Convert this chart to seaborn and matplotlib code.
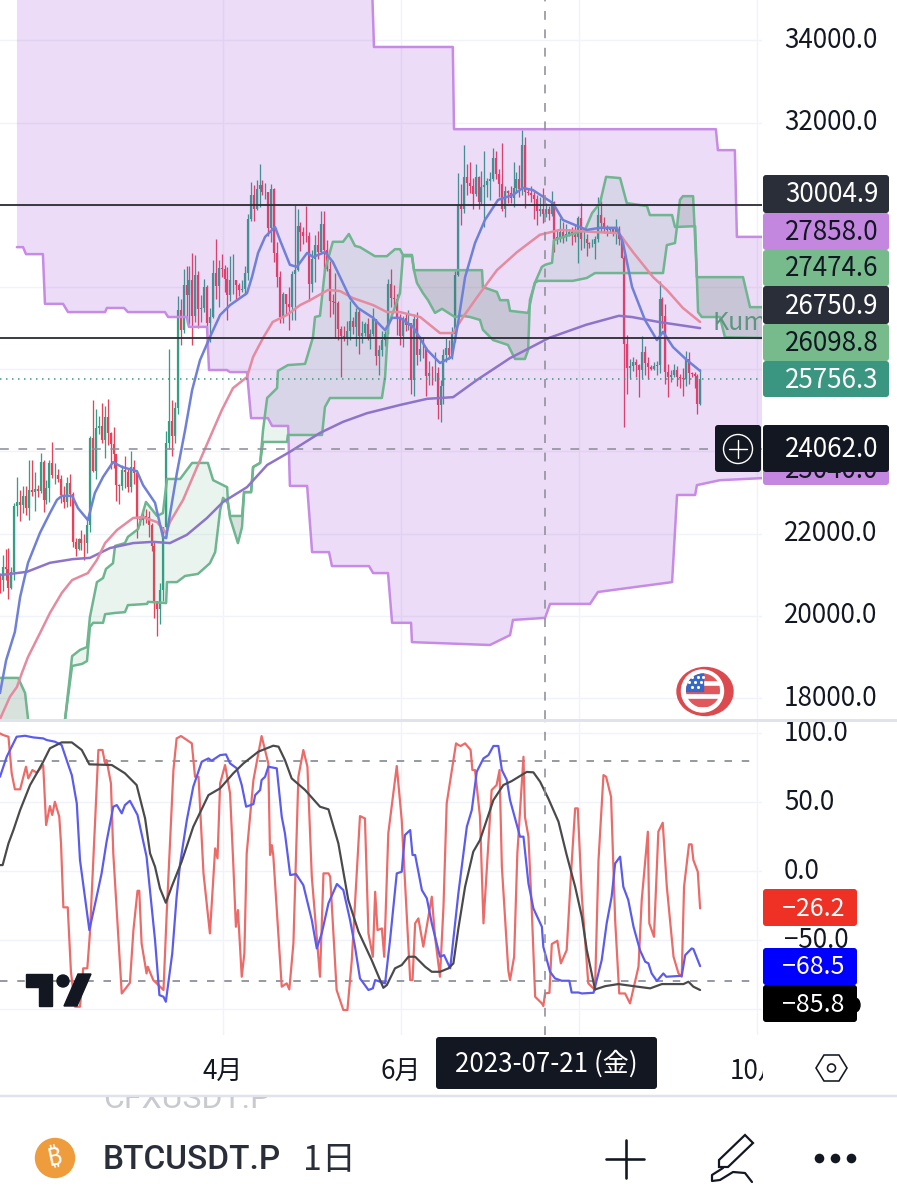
import numpy as np
import seaborn as sns
import matplotlib
matplotlib.use("Agg")
import matplotlib.pyplot as plt
from matplotlib.patches import Circle, Ellipse, FancyBboxPatch, Polygon, Rectangle

# ---- data ----------------------------------------------------------------
# x values everywhere are days counted from 2023-04-01

# daily candles 2023-01-14 .. 2023-09-12
highs = [21250,21030,21470,21630,21650,21180,22750,23370,23070,23170,23150,23800,23800,23500,23180,23960,23800,23300,
         23800,24230,23710,23580,23430,23160,23370,23450,23010,21900,21900,22080,21980,22320,24370,25240,25020,24850,25190,25100,25280,24470,24600,23890,23200,23680,23880,23600,
         24000,23780,23480,22420,22600,22600,22550,22270,21800,20360,20800,22150,24500,26500,25250,25200,27780,27720,28450,28500,28500,28830,28780,28400,27800,28200,28040,27500,28650,29170,28650,
         28800,28530,28490,28750,28800,28180,28100,28170,28520,29770,30550,30490,30600,31000,30600,30540,30300,30500,30400,29100,28380,27880,27820,28000,28400,30000,29900,29580,29450,29980,
         29330,28900,29260,29370,29850,29850,29150,28630,27830,28330,27650,27060,27050,27180,27660,27260,27480,27470,27170,27150,27250,26990,27490,27220,26590,26930,26920,28200,28450,28050,27830,
         27350,27300,27340,27450,27130,27350,27400,26800,26780,26530,26200,26080,26420,26050,25730,26480,26770,26700,27020,28400,30780,30500,31450,31000,31050,30650,31000,30700,30830,31300,
         30650,30800,31380,31320,30870,31500,30450,30370,30450,31030,30800,30970,31820,31650,30400,30450,30330,30240,30190,30400,30050,29980,30330,30100,29380,29680,29570,29530,29400,29450,29520,
         29720,30050,29400,29300,29100,29170,29230,30200,30100,29700,29520,29450,29450,29650,29480,29230,28770,26830,26250,26300,26250,26130,26820,26560,26300,26100,26170,26200,28150,27760,27580,
         26130,25980,26120,26080,25880,26020,26450,26430,25930,25930,25880,26000]
lows = [19880,20550,20600,20880,20400,20660,20870,22420,22300,22500,22460,22320,22920,22550,22880,23000,22530,22720,
        22760,23360,23200,23250,22750,22630,22650,22680,21680,21450,21590,21610,21350,21530,22040,23500,23330,24430,24200,23850,24150,23570,23600,22800,22720,23050,23100,23020,
        23020,23200,21900,22200,22200,22270,21920,21580,19950,19500,19800,20360,21900,24050,23900,24200,24900,26600,26880,27100,27100,26600,27150,27000,27150,27380,26500,26650,27240,27700,27520,
        28250,27870,27200,27670,27830,27720,27770,27880,27800,28170,29600,29600,29870,29950,30230,30130,29250,29100,28600,28000,27130,27120,27330,26950,27200,27200,28380,28880,29050,29090,
        27660,27870,28120,28670,28800,28380,28380,27260,27350,26770,26700,25800,26690,26600,26720,26860,26560,26380,26640,26820,26700,26500,26820,26100,25860,26330,26560,26850,27520,27550,26840,
        26600,26550,26920,26960,25400,25350,26100,26200,26280,25350,25610,25620,25720,24800,24720,25160,26180,26250,26250,26650,28270,29520,29800,30250,30280,29900,30220,29900,30030,29450,
        30180,30120,30580,30620,30200,29850,29700,30040,30050,29950,30300,30200,30240,29930,30250,30070,29650,29500,29730,29550,29700,29630,29730,28850,29040,29100,29060,29120,29250,29030,29100,
        28580,28900,28950,28750,28950,28970,28680,29100,29350,29320,29230,29350,29230,29050,29030,28700,24590,25400,25780,25950,25800,25330,25780,25850,25750,25970,25980,25860,25900,27000,25650,
        25320,25700,25800,25600,25550,25350,25600,25650,25800,25550,24900,25130]
closes = [20950,20870,21180,21130,20670,21070,22670,22780,22700,22910,22620,23060,23010,23080,23030,23740,22820,23120,
          23730,23430,23430,23320,22930,22760,23240,22960,21790,21620,21860,21780,21770,22200,24320,23520,24560,24630,24280,24830,24450,24180,23930,23190,23160,23560,23490,23130,
          23630,23470,22350,22340,22430,22410,22200,21700,20360,20160,20620,22150,24200,24750,24370,25050,27430,26950,28040,27800,28170,27300,28300,27470,27480,27990,27130,27260,28350,28030,28470,
          28450,28190,27800,28170,28170,28040,27920,27950,28330,29650,30230,29890,30390,30490,30320,30320,29430,30390,28820,28250,27270,27820,27590,27510,28310,28420,29480,29340,29250,29230,
          28070,28680,29030,28850,29530,28900,28450,27670,27630,27620,26990,26800,26780,26930,27170,27030,27400,26820,26880,27100,26750,26850,27220,26330,26470,26710,26860,28070,27740,27700,27210,
          26820,27240,27070,27120,25730,27230,26340,26500,26480,25840,25920,25900,25900,25120,25580,26340,26510,26340,26850,28300,29990,29890,30680,30530,30460,30270,30680,30080,30440,30470,
          30580,30620,31150,30760,30500,29900,30340,30280,30160,30410,30620,30380,31450,30310,30290,30230,30130,29850,29900,29780,29900,29780,30080,29170,29220,29350,29210,29300,29350,29270,29220,
          29680,29170,29170,29080,29040,29040,29170,29760,29550,29420,29390,29410,29280,29400,29170,28700,26620,26040,26090,26180,26110,25990,26430,26160,26050,26010,26090,26100,27720,27300,25930,
          25800,25870,25970,25810,25780,25750,26240,25900,25890,25830,25160,25756.3]
first_open = 19930
first_candle_day = -77.5

# big purple cloud
cloud_low_days = [-70.6,-68.5,-67.5,-61.7,-61,-54.8,-53.1,-40.4,-39.8,-33.9,-32.6,-19.9,-18.8,-12.4,-11.7,-5.5,-4.8,1.3,2.4,8.2,9.6,15.4,16.8,22.3,22.9,28.8,30.5,36.3,37.3,50,51.4,56.5,57.9,64.4,64.7,91.4,98.3,99.3,110.3,112,125.7,128.4,153.8,155.5,161.7,162.3,170.2,184.6]
cloud_low = [28970,28970,28800,28800,27590,27590,27390,27390,27490,27490,27390,27390,27270,27270,27030,27030,25980,25980,25930,25930,24810,24810,24620,24620,23160,23160,21550,21550,21210,21210,21040,21040,19830,19830,19360,19290,19530,19900,19950,20290,20290,20580,20820,22940,22940,23180,23300,23350]
cloud_top_days = [-70.6,50.5,51.7,78.7,79.1,168.8,169.5,175.3,176,184.6]
cloud_top = [36500,36500,33840,33840,31840,31840,31330,31330,29220,29220]

# green ichimoku spans
span_a_days = [-76.4,-55.9,-54.1,-51.7,-49,-46.6,-45.6,-43.2,-41.1,-40.1,-37.7,-37,-33.6,-32.6,-29.1,-26.4,-22.6,-20.6,-19.2,-14.7,-10.6,-5.2,-3.4,1.4,1.7,2.4,5.1,6.5,7.2,9.6,10.3,12.7,13.7,15.1,18.5,18.8,22.2,28.1,30.8,31.5,33.2,34.9,37.6,41.1,43.1,45.2,46.9,52,56.1,58.9,60.6,61.6,64.7,65.4,66.4,68.5,70.2,72.6,75,79.4,81.8,84.6,88,89,92.5,97.6,100,103.4,104.5,105.1,106.8,109.2,110.3,112.7,113.3,124,126.4,129.1,131.2,136,138.3,145.2,146.2,153.8,154.8,161.7,162.7,164,170.2,171.9,184.9]
span_a = [16490,16490,17490,19020,19170,19240,19970,20820,20920,21140,21280,21700,21770,21920,22110,22770,22430,22500,23330,23330,23720,23720,23300,23130,22740,22380,21770,22160,23010,23010,23620,23720,24520,25300,25540,25960,26100,26130,26780,27270,27300,28410,29100,29100,29290,29000,28970,28750,28750,28920,28920,28780,28780,28410,28100,27850,27680,27370,27470,27270,27300,27270,27200,26960,26710,26590,26250,26250,26470,27680,28100,28490,28540,28590,29140,29390,29800,30040,30680,30650,30040,29970,29750,29750,29460,29480,27390,27270,27270,26780,26760]
span_b_days = [-76.4,-70.2,-67.8,-66.8,-64.4,-55.9,-54.1,-53.1,-51.7,-48.3,-46.6,-45.6,-44.5,-41.1,-40.4,-37,-33.6,-32.6,-26,-25.7,-19.5,-19.2,-15.8,-13,-8.6,-4.5,-2.7,-1,0,1.7,2.4,6.5,7.2,9.6,10.3,12.7,13.7,21.9,22.2,33.9,34.9,36.6,54.4,55.5,56.5,57.9,60.6,61.6,64.7,65.4,88.7,89,93.8,94.9,97.6,98.3,104.5,105.8,106.8,107.9,119.8,124.6,127.4,150.7,152,154.8,155.5,156.5,157.5,161,162.3,178.1,180.5,184.9]
span_b = [18490,18490,18120,17490,16000,16000,17490,18030,18780,18830,18900,19730,19830,19830,20040,20070,20090,20260,20290,20340,20310,20820,20820,20970,21020,21280,21550,22570,22870,22740,22430,22430,23010,23010,23620,23720,24230,24230,24400,24400,25080,25300,25300,25810,27030,27320,27850,28750,28750,28410,28410,28000,27880,27680,27680,27420,27370,27810,28100,28150,28150,28220,28340,28340,29020,29070,29480,30120,30210,30210,28240,28240,27510,27510]

# moving averages
blue_days = [-76.4,-74.3,-71.3,-69.5,-66.8,-62.7,-59.3,-56.9,-55.2,-51.7,-49.7,-46.3,-43.9,-41.1,-37.7,-34.6,-29.5,-27.4,-23.3,-20.6,-19.5,-18.9,-15.8,-13,-10.6,-7.9,-4.5,-1,2.4,8.2,9.9,12,14.4,17.8,19.5,22.9,25.3,28.8,30.8,34.9,37.6,40.1,43.5,46.2,51.4,55.5,57.9,60.6,65.1,69.9,74.3,78.4,80.5,82.9,86.3,89.7,94.2,99.3,102.7,106.1,113,116.4,124.6,129.1,134.9,137,140.1,144.5,148.6,150.7,154.1,158.9,163.4]
blue_ma = [18120,18920,19610,20460,21290,22020,22500,22820,22920,22920,22620,22330,22990,23380,23740,23620,23520,23180,22750,21920,21890,22160,23480,24520,25490,26220,26780,27320,27560,27850,28240,28830,29220,29460,29140,28540,28490,28830,28730,28850,28610,28240,27730,27490,27250,26950,27250,27250,27030,26470,26150,26300,27130,28240,29070,29630,30120,30240,30410,30360,30040,29630,29390,29440,29440,29070,28000,27200,26710,26910,26540,26220,25960]
pink_days = [-76.4,-73,-70.6,-68.9,-66.8,-62.7,-59.3,-55.2,-51.7,-46.3,-43.2,-40.4,-36.3,-30.8,-27.4,-22.6,-19.5,-18.2,-13.7,-8.9,-3.4,-0.4,3.4,8.2,10.3,13.7,17,21.9,26.4,29.8,36,40.1,44.5,51.4,56.1,60.6,67.5,74.3,78.8,82.2,88,93.8,100.7,108.5,115.4,126.7,135.6,140.4,147.3,152,157.5,163.4]
pink_ma = [17490,18030,18270,18610,19000,19580,20070,20560,20870,21040,21360,21770,22090,22380,22400,22280,22010,22280,22820,23620,24520,25010,25540,25810,26300,26760,27150,27320,27560,27680,27930,27900,27730,27560,27390,27390,27270,26880,26880,27270,27850,28410,28850,29270,29390,29340,29310,28850,28240,27930,27490,27150]
violet_days = [-76.4,-67.2,-59.3,-51.4,-45.6,-38.7,-30.8,-24,-18.2,-12.4,-5.5,0,8.2,15.1,22.9,33.2,41.1,49.3,60.6,69.9,78.8,87,98.3,111.6,124.3,135.6,140,149.2,163.4]
violet_ma = [20990,21070,21290,21380,21410,21650,21770,21800,21770,21970,22380,22770,23130,23670,23990,24450,24720,24930,25130,25280,25320,25740,26270,26760,27080,27300,27270,27150,27000]

# lower pane lines
red_days = [-76.4,-75.3,-73.5,-72.4,-71.3,-69.5,-67.5,-66.7,-65.3,-63.8,-61.6,-60.6,-59.3,-58.5,-57.6,-56.1,-55.5,-54.7,-53.2,-52.1,-50.7,-49,-47.9,-46.5,-45.6,-42.7,-41.3,-40.4,-39.9,-38.4,-37.6,-34.7,-31.9,-30.7,-29.3,-28.7,-27.9,-26.2,-25.8,-23.9,-20.4,-19.3,-17,-15.9,-14.4,-10.7,-9.6,-8.4,-6.7,-4.5,-2.7,-1.9,-1,0.7,2.4,3.5,4.4,5.1,6.4,7.3,8.1,10.4,13.2,15.5,16.1,16.7,17.2,20.1,21.8,22.7,24.1,25.8,27.5,28.9,30.4,33.2,34.4,36.1,36.7,38.9,41.2,42.6,44.1,46.9,48.6,49.8,51.3,52.1,52.9,54.4,55.2,56.6,59.5,61.2,64.1,64.9,65.8,66.9,68.6,71.5,72.6,74.3,75.5,76.6,79.8,80.6,81.4,82.9,84.8,85.4,86.3,88,89.2,92,93.7,94.7,95.5,97.7,98.3,99.7,100.8,102.9,103.4,104.6,105.7,106.9,109.2,109.7,110.3,111.8,112.6,114.5,115.7,117.7,119.4,120.6,121.5,122.9,125.1,127.4,128.6,130.3,131.2,132.9,134.3,135.7,137.7,139.4,142.3,143.4,145.5,146,147.6,149.1,150.6,152,154.3,156,157.1,157.9,159.6,160.5,161.1,162.6,163.4]
red_line = [99.7,98.5,97.3,70.8,59.2,59.2,75.6,67.1,73.2,71.2,76.8,33.3,47.1,40.6,50.2,39.4,20,-26.3,-26.3,-73,-98.3,-98.3,-70.5,-70.5,-45.2,87.7,87.7,78,80.4,63.5,12.8,-88.7,-81,-42.8,-14.3,-14.3,-52.4,-74.2,-69.3,-79,-86.2,-30.7,73.2,96.1,97.8,92.5,68.3,68.3,-1.7,-45.2,16.4,9.2,63.5,76.8,56.3,5.5,-40.4,-28.3,-76.6,-59.7,12.8,65.9,97.8,78,11.6,18.8,11.6,-83.8,-81.4,-85.8,-52.4,68.3,87.7,75.6,-4.1,-76.6,-1.7,-1.7,-4.1,-86.2,-100.7,-100.7,-64.5,39.8,38.1,-45.2,-62.1,-15,-42.8,-41.6,-62.1,27.3,76.1,36.9,-79,-79,-37.9,-34.3,-54.8,-18.6,-47.6,-76.6,-25.9,49,92.5,91.3,90.6,92.5,87.7,73.2,73.2,39.4,-37.9,58.7,62.3,73.2,3.1,-71.8,-79,-62.1,12.8,82.8,39.4,24.9,-25.9,-91.1,-95.9,-97.8,-88.7,-88.2,-52.9,-50.5,-66.9,-57.3,5.5,45.4,45.4,-18.6,-81.4,-86.2,7.9,69.5,68.3,53.8,-35.5,-88.7,-88.7,-95.9,-69.3,-21,28.5,-37.9,-47.6,28.5,35,-11.4,-62.1,-74.2,-76.6,-11.4,19.3,19.3,7.9,-0.5,-27.1]
blue_osc_days = [-76.4,-74.1,-70.7,-67.8,-65,-61.6,-60.4,-57.6,-55.3,-53,-51.8,-50.1,-49,-45.8,-43.3,-41.6,-39.9,-37.6,-36.4,-34.7,-33.6,-31.9,-29.3,-26.2,-23.3,-21.8,-20.4,-19.6,-17.4,-15.9,-14.7,-12.4,-10.2,-7.3,-5,-3.9,-1,1,2.4,4.7,6.4,7.9,10.4,11,12.7,13.2,14.4,15.5,18.4,20.1,21.2,23,25,27.5,30.4,32.1,33.8,36.1,39,41.2,43.5,45.2,46.9,49.8,51.3,52.1,53.8,55.5,57.2,59.5,61.2,62.3,64.1,64.9,65.8,68.1,69.8,71.5,74.3,75.7,77.8,80.6,83.5,85.2,86.9,89.2,90.9,92.6,94.3,95.5,97.2,98.3,100.8,101.7,102.9,104.6,106.3,109.2,109.7,112,113.7,116,118.6,119.4,121.7,122.9,126.9,129.7,131.4,133.1,134.3,136,137.1,138.8,140.6,142.8,144.6,145.7,146.8,148.6,150.8,151.8,157.1,158.3,160.5,161.1,163.4]
blue_line = [68.3,82.8,97.3,98,96.8,96.1,94.9,93.7,91.3,76.8,69.5,49,7.9,-42.8,-18.6,-1.7,21.2,46.6,47.8,41.8,47.8,50.9,40.6,10.4,-50,-89.9,-91.1,-94.7,-59.7,-18.6,5.5,37,61.1,79.2,81.6,79.9,84,84.5,78,74.4,62.3,46.6,48.5,55,58.7,65.9,68.3,75.6,74.4,39.4,27.3,-2.9,-2.2,-10.2,-35.5,-56.1,-45.2,-23.4,-9.4,-13.8,-35.5,-54.9,-77.8,-86.2,-85,-79,-80.2,-81.4,-50,-1.7,-0.5,26.1,29.7,11.6,11.6,-13.8,-19.8,-38,-62.1,-60.9,-70.5,-16.2,32.1,44.2,72,81.6,84,90.6,90.6,73.2,65.9,51.4,32.1,24.9,24.9,-9,-27.1,-40.4,-54.9,-73,-77.8,-79.5,-79.5,-88,-88,-88.7,-88.2,-64.5,-37.9,-18.6,5.5,10.4,-11.4,-21,-40.4,-57.3,-65.7,-66.9,-74.2,-79.7,-74.2,-76.6,-75.9,-60.9,-56.1,-56.5,-68.9]
black_days = [-76.4,-75.5,-73.5,-71.8,-69.5,-66.1,-63.8,-61.6,-59.3,-55.3,-51.8,-48.4,-45.8,-38.1,-33.6,-29.6,-26.7,-25,-23.3,-21.6,-19.6,-17.6,-14.2,-10.2,-5,-1,3.5,7,12.1,17.2,19,21.2,23.5,28.1,33.2,36.1,39.5,42.9,46.4,50.9,54.9,56.1,58.9,61.2,63.5,65.8,69.2,71.5,74.3,77.2,78.9,80.6,82.9,85.7,88,92.6,96,98.9,104,106.3,108.6,111.4,114.9,117.7,120.6,122.9,124.6,127.4,130.9,135.4,140.6,146.3,150.3,157.7,159.4,161.1,163.4]
black_line = [4.3,4.3,20,29.7,44.2,62.3,70.8,79.2,88.9,93.2,93.2,87.7,77.3,76.8,70.8,62.3,38.1,12.8,3.1,-12.6,-23,-11.4,6.7,32.1,55,59.9,70.8,78,86.5,90.8,90.1,80.4,67.1,58.7,46.6,44.7,20,-21,-44,-64.5,-84.6,-82.6,-70.5,-68.1,-62.1,-62.1,-69.3,-73,-73,-70.5,-66.9,-41.6,-11.4,14,22.4,51.4,62.3,65.2,71.8,71.5,64.7,52.6,35.7,11.6,-11.4,-33.1,-57.3,-85.8,-83.4,-81.9,-83.4,-85,-81.9,-81.9,-80.2,-83.8,-86.2]

# levels and ticks
level_lines = [30004.9, 26750.9]
last_price = 25756.3
cross_price = 24062.0
cross_day = 110.3
price_ticks = [18000, 20000, 22000, 24000, 26000, 28000, 30000, 32000, 34000]
# the ones behind the price tags do not show
price_tick_labels = ["18000.0", "20000.0", "22000.0", "", "", "", "", "32000.0", "34000.0"]
osc_ticks = [100, 50, 0, -50, -100]
osc_tick_labels = ["100.0", "50.0", "0.0", "\u221250.0", ""]
osc_bands = [80, -80]
month_ticks = [0, 61, 122, 183]
month_labels = ["4月", "6月", "", "10月"]

# ---- figure ----------------------------------------------------------------
W, H = 897, 1200
sns.set_theme(style="white")
plt.rcParams['font.family'] = ['Noto Sans CJK JP', 'DejaVu Sans']
plt.rcParams['axes.unicode_minus'] = False

INK = "#131722"
GRID = "#f0f3fa"
PX = 72 / 100  # one pixel in points at dpi 100

fig = plt.figure(figsize=(W / 100, H / 100), dpi=100, facecolor="white")
ax = fig.add_axes([0, 1 - 719 / H, 762 / W, 719 / H])
ax2 = fig.add_axes([0, 1 - 1035 / H, 762 / W, 314 / H])


def draw_line(axis, xs, ys, color, width=2.5, z=5, **kw):
    sns.lineplot(x=xs, y=ys, ax=axis, sort=False, estimator=None, color=color,
                 linewidth=width * PX, zorder=z, legend=False, **kw)


# candles
days = first_candle_day + np.arange(len(closes))
closes_arr = np.array(closes)
opens_arr = np.r_[first_open, closes_arr[:-1]]
bar_colors = np.where(closes_arr >= opens_arr, "#33a086", "#e8415a")
ax.vlines(days, lows, highs, colors=bar_colors, linewidth=1.3 * PX, zorder=2)
ax.vlines(days, np.minimum(opens_arr, closes_arr), np.maximum(opens_arr, closes_arr),
          colors=bar_colors, linewidth=2.2 * PX, zorder=2)

# purple cloud sits on top of the candles, that is why they look washed out
ax.fill(cloud_top_days + cloud_low_days[::-1], cloud_top + cloud_low[::-1],
        color="#9b3fd6", alpha=0.18, linewidth=0, zorder=3)
draw_line(ax, cloud_low_days, cloud_low, "#c78be6", z=4)
draw_line(ax, cloud_top_days, cloud_top, "#c78be6", z=4)

# green cloud, lighter where A is on top
grid_days = np.union1d(span_a_days, span_b_days)
a_on_grid = np.interp(grid_days, span_a_days, span_a)
b_on_grid = np.interp(grid_days, span_b_days, span_b)
ax.fill_between(grid_days, a_on_grid, b_on_grid, where=a_on_grid >= b_on_grid, interpolate=True,
                color="#3aa271", alpha=0.11, linewidth=0, zorder=3)
ax.fill_between(grid_days, a_on_grid, b_on_grid, where=a_on_grid < b_on_grid, interpolate=True,
                color="#3c6e55", alpha=0.2, linewidth=0, zorder=3)
draw_line(ax, span_a_days, span_a, "#6fb58f", z=4)
draw_line(ax, span_b_days, span_b, "#6fb58f", z=4)

draw_line(ax, violet_days, violet_ma, "#8e74c9")
draw_line(ax, pink_days, pink_ma, "#e58aa0")
draw_line(ax, blue_days, blue_ma, "#6f80d8")

for level in level_lines:
    ax.axhline(level, color="#2a2a33", linewidth=1.8 * PX, zorder=6)
ax.axhline(last_price, color="#3a9680", linewidth=1.5 * PX, linestyle=(0, (1, 3)), zorder=6)
ax.axhline(cross_price, color="#8f8f99", linewidth=1.6 * PX, linestyle=(0, (5.5, 6)), zorder=6)
ax.axvline(cross_day, color="#8f8f99", linewidth=1.6 * PX, linestyle=(0, (5.5, 6)), zorder=6)
ax2.axvline(cross_day, color="#8f8f99", linewidth=1.6 * PX, linestyle=(0, (5.5, 6)), zorder=6)

ax.text(167.8, 27130, "Kumo", color="#5f9580", fontsize=25 * PX, va="center", clip_on=True, zorder=6)

ax.set_ylim(34983 - 24.33 * 719, 34983)
ax.set_yticks(price_ticks)
ax.set_yticklabels(price_tick_labels)

# lower pane
draw_line(ax2, red_days, red_line, "#ec6a68", width=2.2, z=3)
draw_line(ax2, blue_osc_days, blue_line, "#5b5bf0", width=2.2, z=4)
draw_line(ax2, black_days, black_line, "#4a4a4a", width=2.2, z=5)
for band in osc_bands:
    ax2.axhline(band, xmax=757 / 762, color="#787b86", linewidth=1.5 * PX, linestyle=(0, (5, 6.5)), zorder=2)
ax2.set_ylim(-118.8, 108.7)
ax2.set_yticks(osc_ticks)
ax2.set_yticklabels(osc_tick_labels)

ax2.set_xticks(month_ticks)
ax2.set_xticklabels(month_labels)
ax.set_xticks(month_ticks)
ax.set_xticklabels([])

for a in (ax, ax2):
    a.set_xlim(-76.4, 184.6)
    a.set_xlabel("")
    a.set_ylabel("")
    a.grid(True, color=GRID, linewidth=1.4 * PX, zorder=0)
    a.set_axisbelow(True)
    a.yaxis.tick_right()
    a.tick_params(axis="y", length=0, pad=16, labelsize=26 * PX, labelcolor=INK)
    a.tick_params(axis="x", length=0, pad=17.5, labelsize=26 * PX, labelcolor=INK)
    for s in a.spines.values():
        s.set_visible(False)
    for lab in a.get_yticklabels():
        lab.set_va("center")

# ---- everything that sits outside the panes, drawn in screen pixels ---------
ov = fig.add_axes([0, 0, 1, 1], zorder=20)
ov.set_xlim(0, W)
ov.set_ylim(H, 0)
ov.axis("off")
ov.patch.set_alpha(0)


def tag(x0, x1, y0, y1, color, text, fg, size=26, tx=785, z=5):
    ov.add_patch(FancyBboxPatch((x0, y0), x1 - x0, y1 - y0, boxstyle="round,pad=0,rounding_size=3",
                                facecolor=color, edgecolor="none", zorder=z))
    ov.text(tx, (y0 + y1) / 2 + 1, text, color=fg, fontsize=size * PX, va="center", ha="left", zorder=z + 0.1)


# pane separator and bottom rule
ov.plot([0, W], [720, 720], color="#e0e3eb", linewidth=3 * PX, zorder=1)
ov.plot([0, W], [1096, 1096], color="#e0e3eb", linewidth=2.5 * PX, zorder=1)

# price tags
tag(763, 889, 455, 485, "#c387e0", "23040.0", INK, z=2)
tag(763, 889, 175, 213, "#2a2e39", "30004.9", "white")
tag(763, 889, 213, 250, "#c387e0", "27858.0", INK)
tag(763, 889, 250, 286, "#77ba8c", "27474.6", INK)
tag(763, 889, 286, 324, "#2a2e39", "26750.9", "white")
tag(763, 889, 324, 361, "#77ba8c", "26098.8", INK)
tag(763, 889, 361, 397, "#3a9680", "25756.3", "white")
tag(763, 889, 425, 472, "#131722", "24062.0", "white")
ov.add_patch(FancyBboxPatch((715, 425), 46, 47, boxstyle="round,pad=0,rounding_size=3",
                            facecolor="#131722", edgecolor="none", zorder=5))
ov.add_patch(Circle((738, 449), 14.5, fill=False, edgecolor="white", linewidth=1.4 * PX, zorder=6))
ov.plot([729, 747], [449, 449], color="white", linewidth=1.4 * PX, zorder=6)
ov.plot([738, 738], [440, 458], color="white", linewidth=1.4 * PX, zorder=6)

# oscillator tags
tag(763, 857, 889, 926, "#ee3124", "\u221226.2", "white", size=25, tx=782)
tag(763, 857, 948, 985, "#0000ff", "\u221268.5", "white", size=25, tx=782)
ov.add_patch(Ellipse((855, 1005), 10, 14, color="black", zorder=4.9))
tag(763, 857, 985, 1022, "#000000", "\u221285.8", "white", size=25, tx=782)

# hide what runs past the time scale, then the crosshair date
ov.add_patch(Rectangle((763, 1040), 40, 52, facecolor="white", edgecolor="none", zorder=2))
tag(436, 657, 1037, 1089, "#131722", "2023-07-21 (金)", "white", size=26, tx=455)

# tradingview logo
ov.add_patch(Polygon([(26, 974), (52, 974), (52, 1006), (39, 1006), (39, 987), (26, 987)], color=INK, zorder=4))
ov.add_patch(Circle((63, 981), 6, color=INK, zorder=4))
ov.add_patch(Polygon([(78, 974), (91, 974), (77, 1006), (64, 1006)], color=INK, zorder=4))

# flag badge
ov.add_patch(Ellipse((705, 691.5), 56, 48, color="#dc4a4f", zorder=4))
ov.add_patch(Circle((702.5, 691), 21, color="white", zorder=4.1))
flag = Circle((703, 690.5), 17, transform=ov.transData)
for y0 in (673, 686, 699):
    r = Rectangle((684, y0), 40, 7, color="#e0585c", zorder=4.2)
    ov.add_patch(r)
    r.set_clip_path(flag)
canton = Rectangle((684, 672), 19, 19, color="#3568c9", zorder=4.3)
ov.add_patch(canton)
canton.set_clip_path(flag)
ov.scatter([692, 698, 703, 689, 695, 701, 692, 698], [677, 677, 677, 682, 682, 682, 687, 687],
           s=5, color="white", linewidths=0, zorder=4.4)

# settings hexagon
ov.add_patch(Polygon([(816, 1068), (824, 1055), (839, 1055), (847, 1068), (839, 1081), (824, 1081)],
                     fill=False, edgecolor=INK, linewidth=1.6 * PX, zorder=4))
ov.add_patch(Circle((831.5, 1068), 4, fill=False, edgecolor=INK, linewidth=1.6 * PX, zorder=4))

# bottom bar, the list of the other symbol only shows below the rule
under = ov.text(103, 1108, "CFXUSDT.P", color="#c8cad0", fontsize=32 * PX, family="Roboto", va="baseline", zorder=3)
under.set_clip_on(True)
under.set_clip_path(Rectangle((0, 1097), W, 60, transform=ov.transData))
ov.add_patch(Circle((55, 1158), 19.5, color="#ee9c3c", zorder=4))
ov.text(55, 1158, "\u20bf", color="white", fontsize=25 * PX,
        family=["Noto Sans", "Inter", "Roboto", "Open Sans", "Lato", "DejaVu Sans"], fontweight="bold",
        ha="center", va="center", rotation=12, zorder=5)
ov.text(103, 1160, "BTCUSDT.P", color="#2a2e39", fontsize=33.5 * PX, family="Roboto", fontweight=500,
        va="center", zorder=4)
ov.text(303, 1161, "1日", color="#2a2e39", fontsize=34 * PX, va="center", zorder=4)
ov.plot([606, 644], [1159, 1159], color=INK, linewidth=2.6 * PX, zorder=4)
ov.plot([625.5, 625.5], [1140, 1178], color=INK, linewidth=2.6 * PX, zorder=4)
ov.add_patch(Polygon([(719, 1160), (745, 1135), (753, 1143), (728, 1167), (719, 1167)],
                     fill=False, edgecolor=INK, linewidth=2.2 * PX, zorder=4))
ov.plot([723, 712, 712, 720, 733, 745, 752], [1168, 1175, 1181, 1180, 1172, 1173, 1182],
        color=INK, linewidth=2.2 * PX, zorder=4)
ov.scatter([819, 835, 851], [1158, 1158, 1158], s=48, color=INK, linewidths=0, zorder=4)

fig.savefig("out.png", dpi=100)
